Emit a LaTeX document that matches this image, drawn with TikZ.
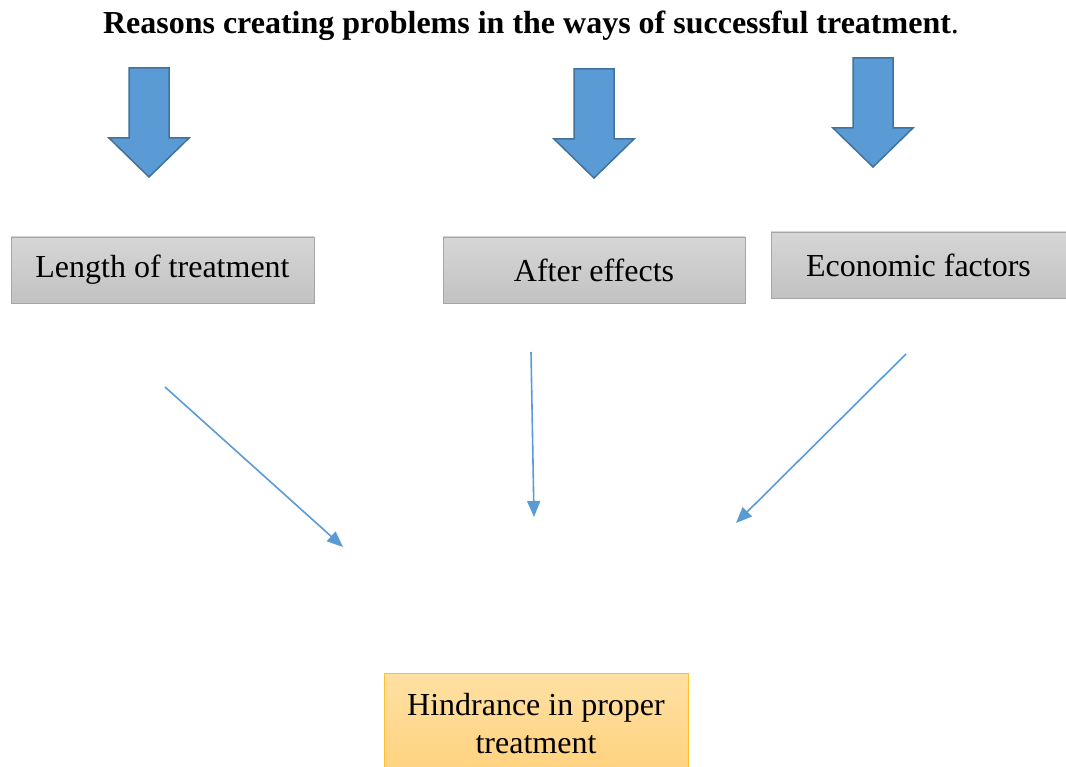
\documentclass[tikz,border=0pt]{standalone}
\usepackage{fontspec}
\setmainfont{Liberation Serif}
\usepackage{tikz}
\usetikzlibrary{arrows.meta, positioning}

\definecolor{arrowblue}{HTML}{5B9BD5}
\definecolor{arrowedge}{HTML}{41719C}
\definecolor{boxedge}{HTML}{A5A5A5}
\definecolor{boxtop}{HTML}{D6D6D6}
\definecolor{boxbottom}{HTML}{C2C2C2}
\definecolor{hinttop}{HTML}{FFE0A3}
\definecolor{hintbottom}{HTML}{FFD27E}
\definecolor{hintedge}{HTML}{FFC22E}

\begin{document}
\begin{tikzpicture}[
    x=1pt, y=-1pt,
    cause/.style={rectangle, draw=boxedge, top color=boxtop, bottom color=boxbottom, minimum height=66pt, align=center, font=\fontsize{32}{37}\selectfont},
    result/.style={rectangle, draw=hintedge, top color=hinttop, bottom color=hintbottom, minimum width=304pt, minimum height=100pt, align=center, anchor=north, inner ysep=9pt, font=\fontsize{32}{38}\selectfont},
    blockarrow/.style={fill=arrowblue, draw=arrowedge, line width=1.5pt, line join=miter},
    arrow/.style={-{Triangle[length=16pt, width=13pt]}, draw=arrowblue, line width=1.6pt},
    downarrow/.pic={\draw[blockarrow] (-20,0) -- (20,0) -- (20,70) -- (40,70) -- (0,109) -- (-40,70) -- (-20,70) -- cycle;},
]
\useasboundingbox (0,0) rectangle (1066,767);

\node[font=\fontsize{32}{37}\selectfont] (title) at (531,26) {\textbf{Reasons creating problems in the ways of successful treatment}.};

% block arrows over the three causes
\pic at (149,68) {downarrow};
\pic at (594,69) {downarrow};
\pic at (873,58) {downarrow};

\node[cause, minimum width=303pt] (length)   at (162.5,270) {Length of treatment};
\node[cause, minimum width=302pt] (after)    at (594,270)   {After effects};
\node[cause, minimum width=295pt] (economic) at (918.5,265) {Economic factors};

\node[result] (hindrance) at (536,673) {Hindrance in proper\\treatment};

% loose ends of the thin arrows
\coordinate (l1) at (165,387);
\coordinate (l2) at (343,547);
\coordinate (a1) at (531,352);
\coordinate (a2) at (534,517);
\coordinate (e1) at (906,354);
\coordinate (e2) at (736,523);

\draw[arrow] (l1) -- (l2);
\draw[arrow] (a1) -- (a2);
\draw[arrow] (e1) -- (e2);

\end{tikzpicture}
\end{document}
